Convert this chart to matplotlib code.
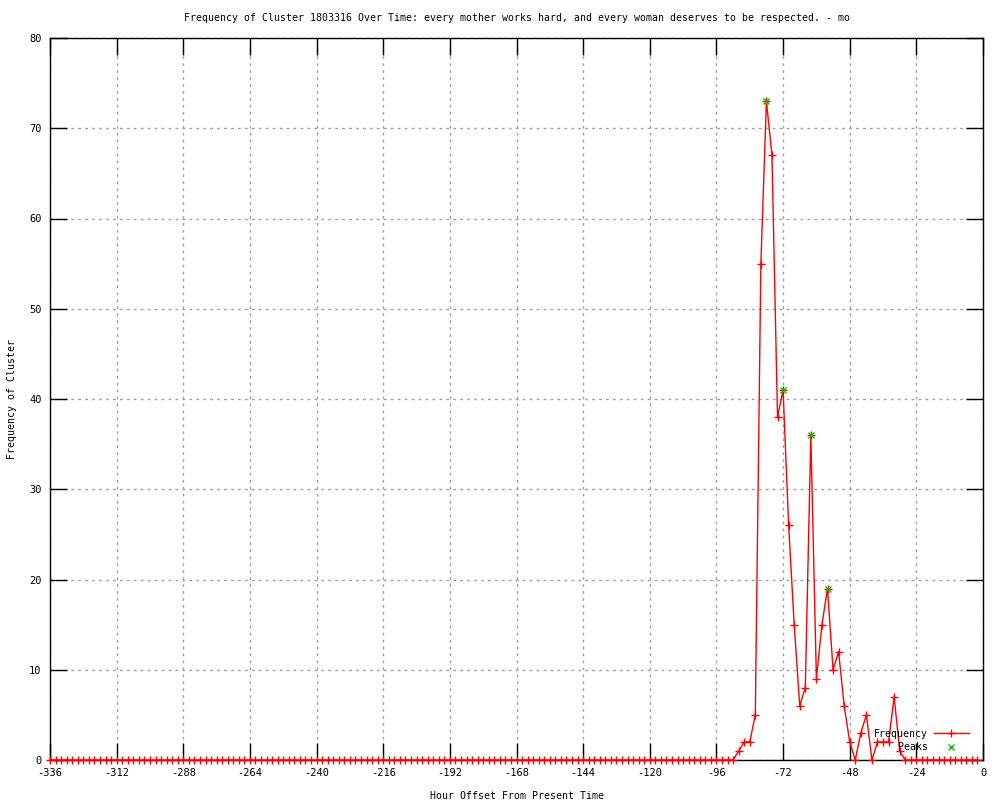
import matplotlib
matplotlib.use('Agg')
import matplotlib.pyplot as plt

# --- data ---
hours = list(range(-336, 0, 2))
freq = [0] * 124 + [1, 2, 2, 5, 55, 73, 67, 38, 41, 26,
                    15, 6, 8, 36, 9, 15, 19, 10, 12, 6,
                    2, 0, 3, 5, 0, 2, 2, 2, 7, 1] + [0] * 14
peak_hours = [-78, -72, -62, -56]
peak_freq = [73, 41, 36, 19]
xticks = list(range(-336, 1, 24))
yticks = list(range(0, 81, 10))

plt.rcParams['font.family'] = ['DejaVu Sans Mono']
plt.rcParams['axes.unicode_minus'] = False

fig = plt.figure(figsize=(10, 8), dpi=100)
ax = fig.add_axes([0.05, 0.05, 0.933, 0.9025])

ax.plot(hours, freq, color='red', lw=1, marker='+', ms=6, mew=1, label='Frequency',
        clip_on=False, zorder=3)
ax.plot(peak_hours, peak_freq, ls='none', color='#00c000', marker='x', ms=5, mew=1,
        label='Peaks', zorder=4)

ax.set_xlim(-336, 0)
ax.set_ylim(0, 80)
ax.set_xticks(xticks)
ax.set_yticks(yticks)
ax.tick_params(direction='in', length=12, width=1, top=True, right=True, labelsize=7.5, pad=6)
ax.grid(True, color='#a0a0a0', ls=(0, (2, 3)), lw=1)
for s in ax.spines.values():
    s.set_linewidth(1)

ax.set_title('Frequency of Cluster 1803316 Over Time: every mother works hard, and every woman deserves to be respected. - mo',
             fontsize=7.1, pad=12)
ax.set_xlabel('Hour Offset From Present Time', fontsize=7.1, labelpad=9)
ax.set_ylabel('Frequency of Cluster', fontsize=7.1, labelpad=9)

ax.legend(loc='lower right', bbox_to_anchor=(0.993, 0.0), frameon=False, markerfirst=False,
          fontsize=7.1, handlelength=3.5, labelspacing=0.35, borderpad=0.3, handletextpad=0.6)

fig.savefig('out.png', dpi=100)
